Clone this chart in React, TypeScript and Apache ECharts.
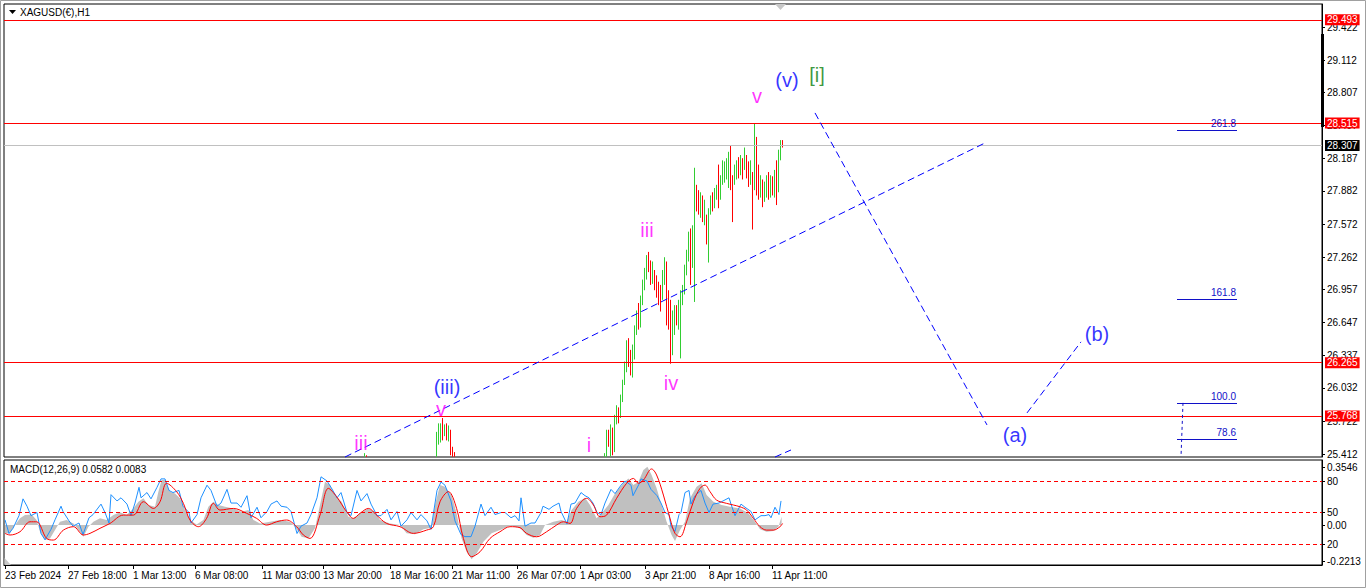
import React, { useEffect, useRef } from "react";
import * as echarts from "echarts";

const FONT = '"Liberation Sans", Arial, sans-serif';

// 2px-wide bar slots across the plot (one slot ~ two H1 bars of the reference)
const SLOT_COUNT = 659;
const slotCategories = Array.from({ length: SLOT_COUNT }, (_, i) => String(i));

const symbolTitle = "XAGUSD(€),H1";
const macdTitle = "MACD(12,26,9) 0.0582 0.0083";

const priceTicks = [25.412, 25.722, 26.032, 26.337, 26.647, 26.957, 27.262, 27.572, 27.882, 28.187, 28.497, 28.807, 29.112, 29.422];
const timeLabels = ["23 Feb 2024", "27 Feb 18:00", "1 Mar 13:00", "6 Mar 08:00", "11 Mar 03:00", "13 Mar 20:00", "18 Mar 16:00", "21 Mar 11:00", "26 Mar 07:00", "1 Apr 03:00", "3 Apr 21:00", "8 Apr 16:00", "11 Apr 11:00"];
const timeLabelSlots = [0, 31.5, 64, 95, 128.5, 159, 192.5, 223.5, 256, 287.5, 320, 352, 383.5];

const macdTickValues = [0.3546, 0, -0.2213];
const macdTickLabels = ["0.3546", "0.00", "-0.2213"];
const rsiLevels = [80, 50, 20];

const resistanceLevels = [29.493, 28.515, 26.265, 25.768];
const bidPrice = 28.307;

const fibLabels = ["261.8", "161.8", "100.0", "78.6"];
const fibPrices = [28.456, 26.868, 25.892, 25.554];
const fibSlots = [586, 616];
const fibAnchor = [[589, 25.892], [588, 25.384]];

const trendLine = [[170, 25.384], [490, 28.333]];
const channelLower = [[385, 25.384], [393, 25.45]];
const projectionA = [[405, 28.615], [491, 25.685]];
const projectionB = [[511, 25.798], [538, 26.465]];

// wave labels: [text, slot, price]
const minorWaves = [["iii", 178, 25.516], ["v", 218, 25.835], ["i", 292, 25.497], ["iii", 321, 27.516], ["iv", 333, 26.08], ["v", 376, 28.774]];
const minuteWaves = [["(iii)", 221, 26.042], ["(v)", 391, 28.925], ["(a)", 505, 25.591], ["(b)", 546, 26.54]];
const minorDegreeWaves = [["[i]", 406, 28.972]];

// visible candles [open, close, low, high]; runs start at the given slot
const candleRunStarts = [180, 216, 300];
const candleRuns = [
  [
    [25.39, 25.41, 25.386, 25.42],
    [25.40, 25.39, 25.386, 25.40],
  ],
  [
    [25.39, 25.58, 25.386, 25.62],
    [25.58, 25.65, 25.50, 25.70],
    [25.55, 25.68, 25.52, 25.70],
    [25.70, 25.60, 25.54, 25.75],
    [25.62, 25.66, 25.58, 25.69],
    [25.68, 25.56, 25.54, 25.70],
    [25.56, 25.64, 25.53, 25.68],
    [25.62, 25.42, 25.40, 25.64],
    [25.45, 25.39, 25.386, 25.48],
    [25.40, 25.39, 25.386, 25.43],
  ],
  [
    [25.39, 25.40, 25.386, 25.42],
    [25.40, 25.57, 25.386, 25.64],
    [25.59, 25.50, 25.48, 25.64],
    [25.47, 25.64, 25.39, 25.69],
    [25.62, 25.45, 25.40, 25.66],
    [25.47, 25.73, 25.43, 25.78],
    [25.71, 25.85, 25.69, 25.87],
    [25.83, 25.73, 25.70, 25.85],
    [25.77, 25.94, 25.75, 25.97],
    [25.94, 26.08, 25.90, 26.11],
    [26.09, 26.24, 26.06, 26.28],
    [26.22, 26.44, 26.18, 26.48],
    [26.46, 26.28, 26.23, 26.50],
    [26.33, 26.18, 26.15, 26.39],
    [26.18, 26.39, 26.13, 26.44],
    [26.33, 26.58, 26.30, 26.62],
    [26.56, 26.74, 26.53, 26.76],
    [26.80, 26.61, 26.58, 26.83],
    [26.62, 26.86, 26.60, 26.90],
    [26.84, 27.01, 26.81, 27.05],
    [26.99, 27.12, 26.95, 27.16],
    [27.09, 27.25, 27.05, 27.28],
    [27.28, 27.16, 27.12, 27.31],
    [27.18, 27.05, 27.00, 27.23],
    [27.05, 27.16, 27.01, 27.22],
    [27.12, 26.99, 26.95, 27.14],
    [27.03, 26.91, 26.88, 27.09],
    [26.95, 26.86, 26.81, 27.03],
    [26.95, 26.81, 26.75, 27.00],
    [26.90, 27.08, 26.86, 27.14],
    [27.03, 27.22, 27.00, 27.26],
    [27.19, 26.86, 26.62, 27.22],
    [26.90, 26.67, 26.58, 26.95],
    [26.76, 26.53, 26.26, 26.86],
    [26.44, 26.69, 26.34, 26.76],
    [26.58, 26.76, 26.53, 26.81],
    [26.78, 26.67, 26.62, 26.81],
    [26.65, 26.81, 26.58, 26.86],
    [26.53, 26.88, 26.31, 26.95],
    [26.86, 26.95, 26.81, 27.00],
    [26.93, 27.14, 26.91, 27.19],
    [27.12, 27.28, 27.09, 27.33],
    [27.25, 27.46, 27.22, 27.50],
    [27.48, 27.22, 27.00, 27.53],
    [27.22, 27.50, 27.16, 27.56],
    [27.50, 28.03, 26.84, 28.10],
    [27.89, 27.75, 27.69, 27.94],
    [27.84, 27.70, 27.66, 27.89],
    [27.69, 27.82, 27.63, 27.87],
    [27.82, 27.66, 27.59, 27.84],
    [27.61, 27.75, 27.56, 27.80],
    [27.63, 27.42, 27.38, 27.66],
    [27.44, 27.69, 27.21, 27.72],
    [27.69, 27.82, 27.66, 27.84],
    [27.84, 27.72, 27.69, 27.87],
    [27.75, 27.87, 27.72, 27.91],
    [27.82, 27.91, 27.80, 27.94],
    [27.94, 27.80, 27.72, 28.13],
    [27.84, 27.99, 27.80, 28.03],
    [27.97, 28.13, 27.94, 28.17],
    [28.00, 28.10, 27.96, 28.16],
    [28.03, 28.16, 27.99, 28.19],
    [27.99, 28.19, 27.91, 28.25],
    [28.27, 27.99, 27.89, 28.31],
    [28.00, 27.80, 27.59, 28.03],
    [27.97, 28.08, 27.94, 28.13],
    [28.02, 28.14, 27.99, 28.17],
    [28.16, 28.06, 28.00, 28.20],
    [28.06, 28.17, 28.03, 28.22],
    [28.16, 28.03, 27.99, 28.19],
    [28.12, 28.25, 28.08, 28.29],
    [28.19, 28.06, 28.00, 28.22],
    [28.08, 27.97, 27.92, 28.16],
    [27.97, 28.13, 27.94, 28.17],
    [28.03, 27.84, 27.52, 28.06],
    [27.94, 28.27, 27.89, 28.515],
    [28.27, 27.94, 27.84, 28.39],
    [28.06, 27.87, 27.80, 28.13],
    [27.84, 27.99, 27.82, 28.03],
    [27.94, 27.80, 27.73, 27.99],
    [27.82, 27.93, 27.78, 27.97],
    [27.87, 28.00, 27.82, 28.03],
    [28.00, 27.84, 27.80, 28.06],
    [27.84, 27.99, 27.82, 28.03],
    [27.97, 27.87, 27.84, 28.02],
    [27.87, 28.03, 27.82, 28.08],
    [28.08, 27.89, 27.75, 28.17],
    [27.91, 28.22, 27.87, 28.27],
    [28.21, 28.33, 28.17, 28.36],
    [28.34, 28.307, 28.29, 28.36],
  ],
];

// MACD window: [slot, value]
const macdHist = [[0,-0.051],[2.5,-0.051],[5,0],[7.5,0.041],[10,0.061],[13.3,0.065],[15.8,0.031],[17.5,-0.041],[20,-0.092],[22.5,-0.082],[25,-0.031],[27.5,0.020],[30.8,0.031],[34.2,0.010],[36.7,-0.031],[39.2,-0.072],[41.7,-0.010],[44.2,0.020],[47.5,0.041],[50.8,0.031],[54.2,0.061],[57.5,0.078],[60.8,0.061],[64.2,0.102],[66.7,0.143],[69.2,0.164],[71.7,0.123],[75,0.112],[76.7,0.205],[78.3,0.276],[80,0.276],[82.5,0.205],[85,0.194],[87.5,0.164],[90,0.092],[92.5,0.031],[95.8,0.004],[99.2,0.031],[101.7,0.112],[104.2,0.143],[106.7,0.123],[110,0.112],[114.2,0.102],[118.3,0.082],[121.7,0.092],[124.2,0.031],[127.5,0.010],[132.5,0.020],[137.5,0.031],[142.5,0.020],[145,-0.010],[148.3,-0.072],[151.7,-0.082],[155,-0.020],[157.5,0.123],[160,0.266],[162.5,0.245],[165,0.184],[168.3,0.143],[171.7,0.051],[174.2,0.041],[177.5,0.072],[181.7,0.102],[185,0.082],[187.5,0.031],[192.5,0.010],[197.5,0],[200.8,-0.051],[205,-0.057],[209.2,-0.025],[213.3,-0.016],[215,0.123],[217.5,0.245],[220,0.235],[223.3,0.184],[225.8,0.072],[228.3,-0.082],[230.8,-0.164],[233.3,-0.209],[235.8,-0.174],[239.2,-0.102],[243.3,-0.051],[247.5,-0.031],[252.5,-0.004],[257.5,-0.020],[260.8,-0.061],[264.2,-0.078],[267.5,-0.061],[270,0],[274.2,0.020],[278.3,0.031],[280.8,0.020],[283.3,0.092],[286.7,0.143],[290,0.168],[292.5,0.123],[295.8,0.041],[298.3,0.072],[301.7,0.123],[305,0.194],[309.2,0.256],[311.7,0.286],[314.2,0.245],[316.7,0.266],[319.2,0.337],[321.2,0.358],[323.3,0.307],[325.8,0.225],[328.3,0.123],[330.8,0.020],[333.3,-0.061],[335,-0.098],[337.5,-0.031],[340,0.020],[342.5,0.164],[345.8,0.235],[348.3,0.256],[350.8,0.184],[354.2,0.143],[358.3,0.123],[362.5,0.112],[367.5,0.102],[371.7,0.072],[375,0.020],[377.5,-0.025],[380.8,-0.041],[384.2,-0.037],[386.7,-0.010],[388.3,0.051]];

const macdSignal = [[0,-0.051],[2.5,-0.061],[7.5,-0.041],[12.5,0.020],[15.8,0.020],[20.8,-0.082],[24.2,-0.092],[29.2,-0.031],[34.2,-0.010],[39.2,-0.061],[42.5,-0.051],[47.5,-0.020],[52.5,0.010],[59.2,0.061],[64.2,0.061],[69.2,0.143],[74.2,0.102],[77.5,0.143],[80.8,0.256],[85.8,0.205],[89.2,0.133],[92.5,0.031],[96.7,-0.010],[100.8,0.041],[104.2,0.133],[107.5,0.092],[114.2,0.102],[120.8,0.072],[125.8,0.041],[130.8,0],[135.8,0.020],[140.8,0.031],[145.8,-0.010],[149.2,-0.061],[152.5,-0.082],[157.5,0.061],[161.7,0.225],[165.8,0.174],[170.8,0.082],[174.2,0.041],[177.5,0.072],[181.7,0.102],[185.8,0.061],[190.8,0.010],[197.5,-0.010],[204.2,-0.051],[210.8,-0.031],[214.2,-0.010],[217.5,0.143],[221.7,0.205],[225.8,0.102],[229.2,-0.082],[233.3,-0.194],[237.5,-0.164],[242.5,-0.082],[247.5,-0.041],[252.5,-0.010],[257.5,-0.016],[260.8,-0.051],[265.8,-0.072],[270.8,-0.041],[275.8,0],[279.2,0.020],[282.5,0.010],[285.8,0.102],[290.8,0.164],[294.2,0.123],[297.5,0.051],[300.8,0.061],[305.8,0.164],[310.8,0.256],[314.2,0.286],[316.7,0.256],[319.2,0.276],[323.3,0.344],[325.8,0.307],[329.2,0.184],[332.5,0.041],[335,-0.051],[337.5,-0.072],[340.8,0.020],[344.2,0.143],[347.5,0.225],[350,0.245],[352.5,0.205],[355.8,0.153],[360.8,0.133],[364.2,0.123],[367.5,0.112],[370.8,0.092],[374.2,0.041],[377.5,-0.010],[380.8,-0.031],[384.2,-0.031],[387.5,-0.010],[388.8,0.010]];

const oscLine = [[0,43],[2,30],[4,35],[7,47],[9,63],[11,56],[13,47],[16,50],[18,30],[20,24],[23,34],[25,43],[28,56],[29,51],[32,42],[34,37],[37,40],[39,29],[42,45],[44,48],[48,58],[50,50],[52,40],[53,67],[56,61],[58,64],[61,58],[63,47],[65,59],[67,74],[68,64],[71,69],[73,63],[76,74],[78,82],[80,82],[82,71],[84,69],[87,71],[89,56],[92,50],[93,40],[96,48],[98,64],[101,76],[103,71],[106,56],[108,59],[111,72],[113,59],[116,59],[118,55],[121,66],[123,45],[126,55],[128,45],[131,51],[133,58],[136,61],[138,56],[141,55],[143,51],[146,30],[148,37],[151,40],[153,48],[156,64],[158,84],[161,80],[163,74],[166,64],[168,69],[171,50],[173,47],[176,71],[178,61],[181,68],[183,58],[186,47],[188,47],[191,53],[193,43],[196,51],[198,37],[201,43],[203,50],[206,43],[208,48],[211,42],[213,34],[216,71],[218,79],[220,76],[223,61],[225,42],[228,29],[230,27],[233,27],[235,37],[238,58],[240,47],[243,55],[245,48],[248,50],[250,50],[253,45],[255,47],[257,42],[258,64],[260,37],[262,39],[263,40],[265,40],[268,50],[269,56],[272,53],[274,56],[277,59],[278,51],[281,39],[283,58],[285,59],[288,69],[290,66],[292,64],[294,59],[296,50],[298,48],[300,59],[303,72],[305,68],[308,76],[310,80],[313,76],[314,66],[317,77],[318,82],[321,80],[323,72],[326,66],[328,59],[330,50],[332,48],[333,37],[335,32],[337,48],[338,50],[340,69],[342,71],[343,58],[345,66],[348,71],[350,59],[352,50],[354,58],[357,59],[359,61],[362,64],[363,58],[365,47],[368,58],[370,55],[373,51],[375,43],[378,47],[380,47],[382,48],[383,45],[385,55],[387,48],[388,61]];

const GREEN = "#32cd32";
const RED = "#ff0000";
const BLUE = "#0000ff";
const FIB_BLUE = "#1010c8";

function buildOption() {
  const candleRows: any[] = [];
  candleRunStarts.forEach((start, r) => {
    candleRuns[r].forEach((ohlc, i) => candleRows.push([start + i, ...ohlc]));
  });

  const tag = (text: string, bg: string) => ({
    show: true,
    position: "end",
    formatter: text,
    backgroundColor: bg,
    color: "#ffffff",
    padding: [1, 2, 0, 2],
    fontSize: 10,
    fontFamily: FONT,
    distance: 3,
  });

  const segment = (pts: number[][], dash: any) => [
    { coord: pts[0], lineStyle: { color: BLUE, width: 1, type: dash }, label: { show: false } },
    { coord: pts[1] },
  ];

  const markLines: any[] = [
    ...resistanceLevels.map((v) => ({
      yAxis: v,
      lineStyle: { color: RED, width: 1, type: "solid" },
      label: tag(v.toFixed(3), RED),
    })),
    {
      yAxis: bidPrice,
      lineStyle: { color: "#c0c0c0", width: 1, type: "solid" },
      label: tag(bidPrice.toFixed(3), "#000000"),
    },
    ...fibPrices.map((p, i) => [
      {
        coord: [fibSlots[0], p],
        lineStyle: { color: FIB_BLUE, width: 1, type: "solid" },
        label: { show: true, position: "insideEndTop", formatter: fibLabels[i], color: FIB_BLUE, fontSize: 10, fontFamily: FONT, distance: 1 },
      },
      { coord: [fibSlots[1], p] },
    ]),
    [
      { coord: fibAnchor[0], lineStyle: { color: FIB_BLUE, width: 1, type: [3, 3] }, label: { show: false } },
      { coord: fibAnchor[1] },
    ],
    segment(trendLine, [7, 4]),
    segment(channelLower, [7, 4]),
    segment(projectionA, [7, 4]),
    segment(projectionB, [7, 4]),
  ];

  const waveSeries = (list: any[], color: string) => ({
    type: "scatter",
    xAxisIndex: 0,
    yAxisIndex: 0,
    symbol: "circle",
    symbolSize: 1,
    itemStyle: { color: "rgba(0,0,0,0)" },
    silent: true,
    z: 5,
    data: list.map((w) => ({ name: w[0], value: [w[1], w[2]] })),
    label: {
      show: true,
      position: "inside",
      formatter: (p: any) => p.name,
      color,
      fontSize: 20,
      fontFamily: FONT,
    },
  });

  const labelAt = (values: number[], labels: string[]) => (v: number) => {
    const i = values.findIndex((t) => Math.abs(t - v) < 1e-6);
    return i >= 0 ? labels[i] : "";
  };

  const axisText = { fontSize: 10, color: "#000", fontFamily: FONT };

  return {
    animation: false,
    backgroundColor: "#ffffff",
    grid: [
      { left: 4, top: 4, width: 1318, height: 453, show: true, borderColor: "#000", borderWidth: 1, backgroundColor: "#fff" },
      { left: 4, top: 460, width: 1318, height: 105, show: true, borderColor: "#000", borderWidth: 1, backgroundColor: "#fff" },
    ],
    xAxis: [
      { type: "category", gridIndex: 0, data: slotCategories, boundaryGap: true, show: false },
      {
        type: "value",
        gridIndex: 1,
        min: -0.5,
        max: SLOT_COUNT - 0.5,
        position: "bottom",
        splitLine: { show: false },
        axisLine: { show: true, onZero: false, lineStyle: { color: "#000" } },
        axisTick: { show: true, customValues: timeLabelSlots, length: 4, lineStyle: { color: "#000" } },
        axisLabel: { ...axisText, customValues: timeLabelSlots, formatter: labelAt(timeLabelSlots, timeLabels), align: "left", margin: 5 },
      },
    ],
    yAxis: [
      {
        type: "value",
        gridIndex: 0,
        position: "right",
        min: 25.384,
        max: 29.638,
        splitLine: { show: false },
        axisLine: { show: true, onZero: false, lineStyle: { color: "#000" } },
        axisTick: { show: true, customValues: priceTicks, length: 3, lineStyle: { color: "#000" } },
        axisLabel: { ...axisText, customValues: priceTicks, formatter: (v: number) => v.toFixed(3), margin: 5 },
      },
      {
        type: "value",
        gridIndex: 1,
        position: "right",
        min: -0.245,
        max: 0.399,
        splitLine: { show: false },
        axisLine: { show: true, onZero: false, lineStyle: { color: "#000" } },
        axisTick: { show: true, customValues: macdTickValues, length: 3, lineStyle: { color: "#000" } },
        axisLabel: { ...axisText, customValues: macdTickValues, formatter: labelAt(macdTickValues, macdTickLabels), margin: 5 },
      },
      {
        type: "value",
        gridIndex: 1,
        position: "right",
        min: 0,
        max: 100,
        splitLine: { show: false },
        axisLine: { show: false, onZero: false },
        axisTick: { show: true, customValues: rsiLevels, length: 3, lineStyle: { color: "#000" } },
        axisLabel: { ...axisText, customValues: rsiLevels, formatter: (v: number) => String(v), margin: 5 },
      },
    ],
    series: [
      {
        type: "candlestick",
        xAxisIndex: 0,
        yAxisIndex: 0,
        data: candleRows,
        encode: { x: 0, y: [1, 2, 3, 4] },
        barWidth: 1,
        clip: true,
        itemStyle: { color: GREEN, color0: RED, borderColor: GREEN, borderColor0: RED, borderWidth: 1 },
        markLine: { silent: true, symbol: ["none", "none"], animation: false, data: markLines },
      },
      waveSeries(minorWaves, "#ff00ff"),
      waveSeries(minuteWaves, "#0000ff"),
      waveSeries(minorDegreeWaves, "#0b7d0b"),
      {
        type: "line",
        xAxisIndex: 1,
        yAxisIndex: 1,
        data: macdHist,
        showSymbol: false,
        silent: true,
        lineStyle: { width: 0, opacity: 0 },
        areaStyle: { color: "#c0c0c0", opacity: 1, origin: 0 },
        z: 1,
      },
      {
        type: "line",
        xAxisIndex: 1,
        yAxisIndex: 2,
        data: oscLine,
        showSymbol: false,
        silent: true,
        lineStyle: { color: "#1e90ff", width: 1 },
        z: 2,
        markLine: {
          silent: true,
          symbol: ["none", "none"],
          label: { show: false },
          lineStyle: { color: RED, width: 1, type: [4, 3] },
          data: rsiLevels.map((v) => ({ yAxis: v })),
        },
      },
      {
        type: "line",
        xAxisIndex: 1,
        yAxisIndex: 1,
        data: macdSignal,
        showSymbol: false,
        silent: true,
        smooth: 0.35,
        lineStyle: { color: RED, width: 1 },
        z: 3,
      },
    ],
    graphic: [
      { type: "rect", z: 100, shape: { x: 0.5, y: 0.5, width: 1365, height: 587 }, style: { fill: "none", stroke: "#a0a0a0", lineWidth: 1 } },
      { type: "rect", z: 100, shape: { x: 1321, y: 34, width: 3, height: 93 }, style: { fill: "#000" } },
      { type: "polygon", z: 100, shape: { points: [[9, 10], [16, 10], [12.5, 14]] }, style: { fill: "#000" } },
      { type: "text", z: 100, x: 20, y: 12, style: { text: symbolTitle, fill: "#000", font: `10px ${FONT}`, verticalAlign: "middle" } },
      { type: "polygon", z: 100, shape: { points: [[775, 4], [786, 4], [780.5, 10]] }, style: { fill: "#c8c8c8" } },
      { type: "text", z: 100, x: 10, y: 469, style: { text: macdTitle, fill: "#000", font: `10px ${FONT}`, verticalAlign: "middle" } },
      { type: "polygon", z: 100, shape: { points: [[4.5, 558], [4.5, 565], [11, 565]] }, style: { fill: "#c8c8c8" } },
    ],
  };
}

export default function App() {
  const ref = useRef<HTMLDivElement>(null);
  useEffect(() => {
    if (!ref.current) return;
    const chart = echarts.init(ref.current, undefined, { renderer: "svg" });
    chart.setOption(buildOption() as any);
    return () => chart.dispose();
  }, []);
  return (
    <div
      ref={ref}
      style={{ position: "fixed", left: 0, top: 0, width: 1366, height: 588, background: "#fff" }}
    />
  );
}
